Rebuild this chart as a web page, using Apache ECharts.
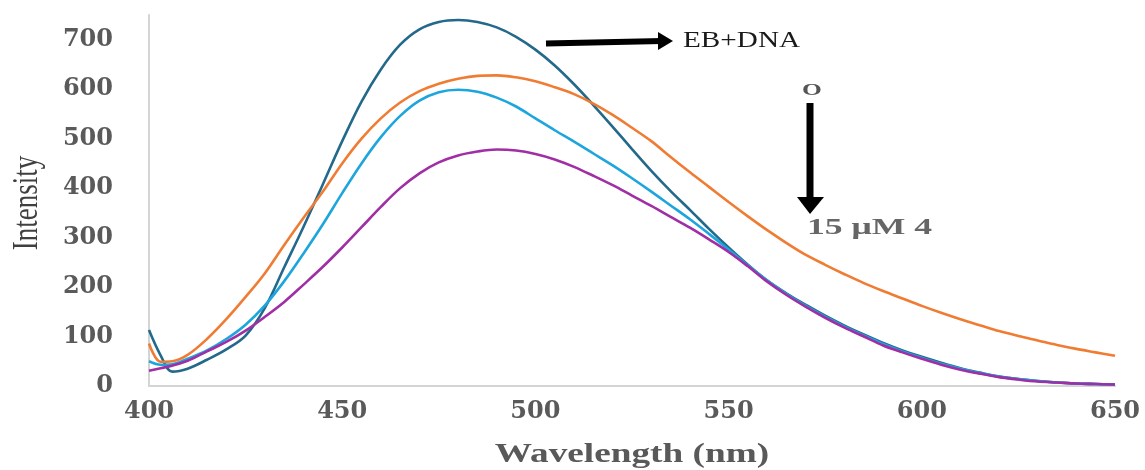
<!DOCTYPE html>
<html>
<head>
<meta charset="utf-8">
<script src="https://cdn.jsdelivr.net/npm/echarts@6/dist/echarts.min.js"></script>
<style>html,body{margin:0;padding:0;background:#fff;}#chart{width:1145px;height:470px;}</style>
</head>
<body>
<div id="chart"></div>
<script>
// Wavelength grid (nm)
const wavelengths = [400,403,406,410,415,420,425,430,435,440,445,450,455,460,465,470,475,480,485,490,495,500,505,510,515,520,525,530,535,540,545,550,555,560,565,570,575,580,585,590,595,600,605,610,615,620,625,630,635,640,645,650];
// EB+DNA (dark teal)
const ebDna = [113,62,29,35,53,74,102,158,240,322,408,495,575,640,690,721,736,740,736,725,706,680,648,610,568,524,479,435,394,356,317,280,245,213,187,164,142,122,104,87,72,59,47,36,27,19,14,10,7,5,4,3];
// orange
const seriesOrange = [86,49,50,63,95,135,180,228,285,340,393,450,500,541,573,596,611,621,627,628,624,616,604,590,571,548,522,495,463,432,402,372,343,315,289,265,245,226,208,192,177,162,148,135,123,111,101,92,83,75,68,61];
// light blue
const seriesBlue = [50,43,44,55,72,95,124,163,212,268,327,390,450,503,546,577,594,599,595,583,565,541,517,494,470,446,420,393,365,337,307,276,244,213,186,162,140,120,102,85,70,57,45,35,26,19,14,10,7,5,4,3];
// purple (15 µM)
const seriesPurple = [31,36,41,51,70,89,112,140,170,205,241,280,321,362,400,430,452,466,474,478,476,469,458,443,425,406,385,364,342,320,296,271,242,211,184,160,138,118,100,82,68,55,43,33,25,18,13,9,7,5,4,3];

const xTicks = [400,450,500,550,600,650];
const yTicks = [0,100,200,300,400,500,600,700];

function pairs(vals){ return wavelengths.map((w,i)=>[w, vals[i]]); }

const chart = echarts.init(document.getElementById('chart'), null, {renderer:'canvas'});
const labelFont = {fontFamily:'DejaVu Serif', fontWeight:'bold', fontSize:24, color:'#5a5a5a'};
const mk = (name, vals, color) => ({
  name, type:'line', data: pairs(vals), smooth:0.35, showSymbol:false,
  lineStyle:{color, width:2.6}, itemStyle:{color}, animation:false
});
chart.setOption({
  animation:false,
  grid:{left:149, right:30, top:15, bottom:84},
  xAxis:{type:'value', min:xTicks[0], max:xTicks[xTicks.length-1], interval:50,
    axisLine:{lineStyle:{color:'#d4d4d4', width:2}}, axisTick:{show:false}, splitLine:{show:false},
    axisLabel:Object.assign({margin:14}, labelFont)},
  yAxis:{type:'value', min:yTicks[0], max:750, interval:100,
    axisLine:{show:true, lineStyle:{color:'#d4d4d4', width:2}}, axisTick:{show:false}, splitLine:{show:false},
    axisLabel:Object.assign({margin:36, showMaxLabel:false, formatter:v=> v>700?'':String(v)}, labelFont)},
  series:[
    mk('EB+DNA', ebDna, '#22698b'),
    mk('S1', seriesOrange, '#f07c33'),
    mk('S2', seriesBlue, '#1da5de'),
    mk('15 μM', seriesPurple, '#a02ea5')
  ],
  graphic:[
    {type:'text', x:28, y:203, rotation:Math.PI/2, scaleY:1.3,
      style:{text:'Intensity', font:'27px "Liberation Serif"', fill:'#404040', align:'center', verticalAlign:'middle', textAlign:'center', textVerticalAlign:'middle'}},
    {type:'text', x:632, y:455, scaleX:1.38,
      style:{text:'Wavelength (nm)', font:'bold 27px "Liberation Serif"', fill:'#595959', align:'center', verticalAlign:'middle', textAlign:'center', textVerticalAlign:'middle'}},
    {type:'line', shape:{x1:546, y1:43.5, x2:662, y2:41}, style:{stroke:'#000', lineWidth:6}},
    {type:'polygon', shape:{points:[[658,32],[673,41],[658,50]]}, style:{fill:'#000'}},
    {type:'text', x:683, y:41, scaleX:1.27,
      style:{text:'EB+DNA', font:'23px "Liberation Serif"', fill:'#1a1a1a', align:'left', verticalAlign:'middle', textAlign:'left', textVerticalAlign:'middle'}},
    {type:'text', x:812, y:91, scaleX:1.5,
      style:{text:'O', font:'bold 17px "Liberation Serif"', fill:'#555', align:'center', verticalAlign:'middle', textAlign:'center', textVerticalAlign:'middle'}},
    {type:'line', shape:{x1:810, y1:103, x2:810, y2:200}, style:{stroke:'#000', lineWidth:7}},
    {type:'polygon', shape:{points:[[797,197],[824,197],[810,214]]}, style:{fill:'#000'}},
    {type:'text', x:807, y:228, scaleX:1.55,
      style:{text:'15 μM 4', font:'bold 23px "Liberation Serif"', fill:'#666', align:'left', verticalAlign:'middle', textAlign:'left', textVerticalAlign:'middle'}}
  ]
});
</script>
</body>
</html>
